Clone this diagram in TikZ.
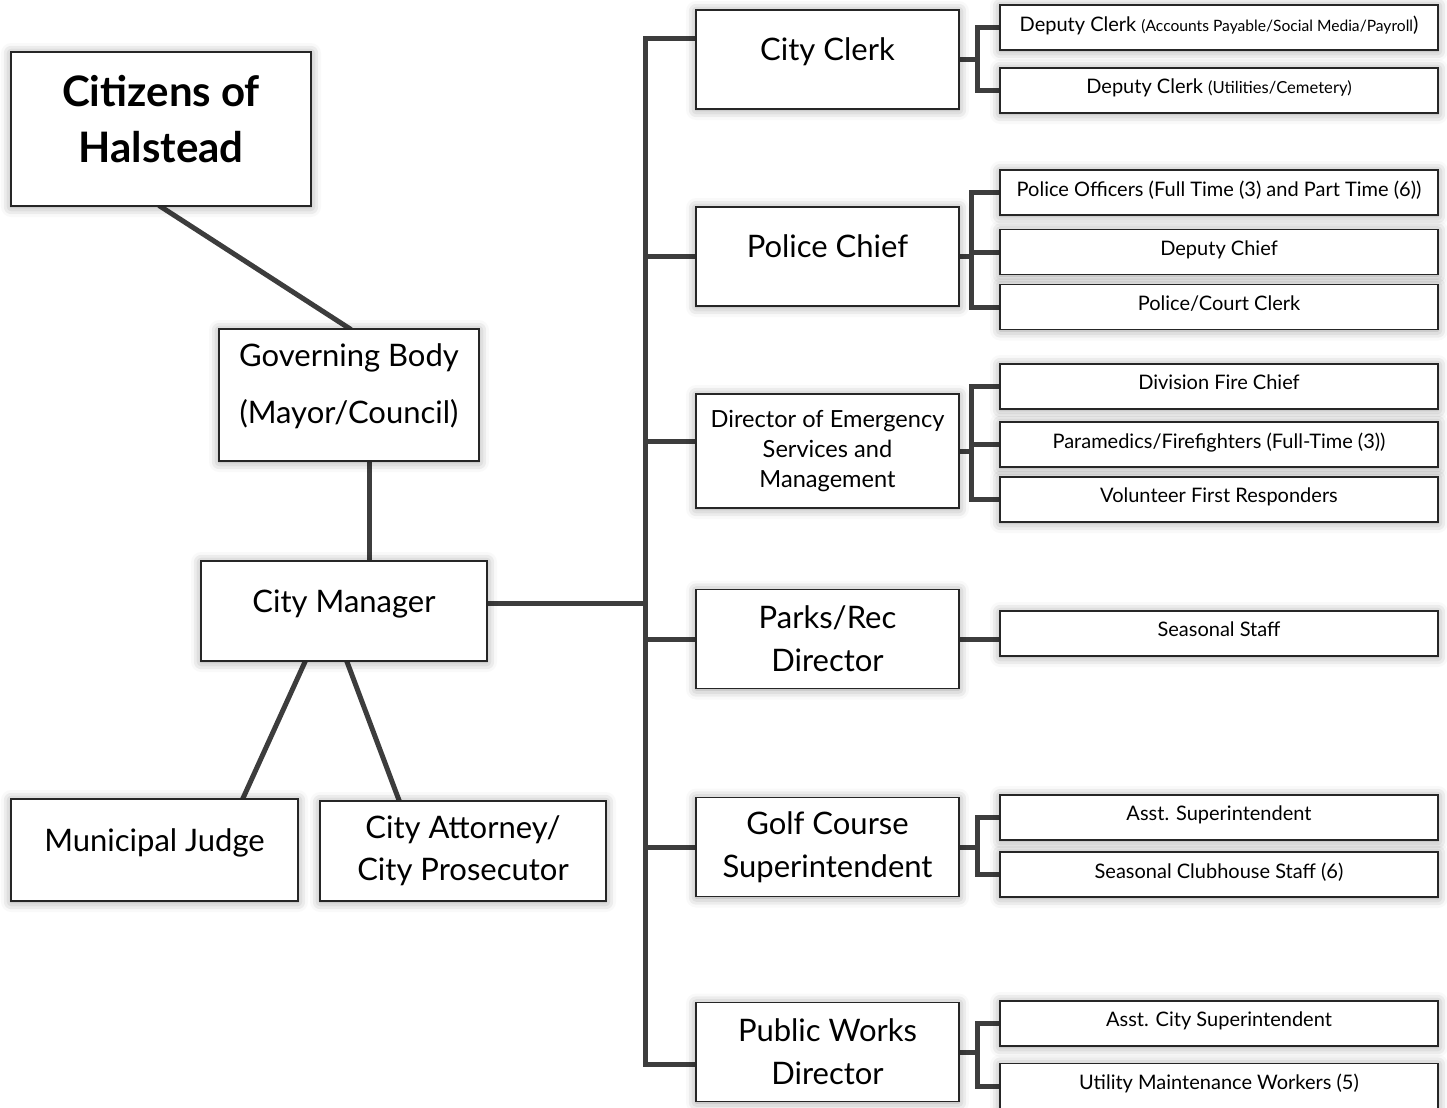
\documentclass[tikz,border=0pt]{standalone}
\usepackage{fontspec}
\setmainfont{Lato}
\usetikzlibrary{calc,shadows.blur}
\pgfdeclarelayer{background}
\pgfsetlayers{background,main}

\begin{document}
\begin{tikzpicture}[x=0.5pt, y=-0.5pt,
	box/.style={draw=black!85, line width=0.8pt, fill=white, align=center, inner sep=2pt,
		blur shadow={shadow xshift=0pt, shadow yshift=-0.5pt, shadow blur radius=5pt, shadow opacity=40}},
	head/.style={box, minimum width=131.5pt, minimum height=49.5pt, font=\fontsize{15.5}{21.5}\selectfont},
	staff/.style={box, minimum width=219pt, minimum height=22.5pt, font=\fontsize{10}{11}\selectfont, text depth=4pt},
	lift/.style={text depth=#1},
	link/.style={draw=black!76, line width=2.5pt, line cap=rect}]
	
	\useasboundingbox (0,0) rectangle (1447,1108);
	
	% Left side
	\node [box, lift=10pt, minimum width=150pt, minimum height=77pt, font=\fontsize{21}{28}\selectfont\bfseries] (citizens) at (161,129) {Citizens of\\Halstead};
	\node [box, lift=11pt, minimum width=130pt, minimum height=66pt, font=\fontsize{15.5}{28.5}\selectfont] (gov) at (349,395) {Governing Body\\(Mayor/Council)};
	\node [box, lift=9.5pt, minimum width=143pt, minimum height=50pt, font=\fontsize{15.5}{21}\selectfont] (mgr) at (344,611) {City Manager};
	\node [box, lift=9.5pt, minimum width=143.5pt, minimum height=51pt, font=\fontsize{15.5}{21}\selectfont] (judge) at (154.5,850) {Municipal Judge};
	\node [box, minimum width=143pt, minimum height=50pt, font=\fontsize{15.5}{21}\selectfont] (attorney) at (463,851) {City Attorney/\\City Prosecutor};
	
	% Department heads
	\node [head, lift=10pt] (clerk) at (827.5,59.5) {City Clerk};
	\node [head, lift=10pt] (police) at (827.5,256.5) {Police Chief};
	\node [head, minimum height=57pt, font=\fontsize{11.8}{15}\selectfont] (director) at (827.5,451) {Director of Emergency\\Services and\\Management};
	\node [head] (parks) at (827.5,639) {Parks/Rec\\Director};
	\node [head] (golf) at (827.5,847) {Golf Course\\Superintendent};
	\node [head] (public) at (827.5,1052) {Public Works\\Director};
	
	% Staff
	\node [staff] (dc1) at (1219,27.5) {Deputy Clerk {\fontsize{7.8}{9}\selectfont(Accounts Payable/Social Media/Payroll}{)}};
	\node [staff] (dc2) at (1219,90.5) {Deputy Clerk {\fontsize{8.3}{9}\selectfont(Utilities/Cemetery)}};
	\node [staff] (po) at (1219,192.5) {Police Officers (Full Time (3) and Part Time (6))};
	\node [staff] (dch) at (1219,252) {Deputy Chief};
	\node [staff] (pcc) at (1219,307) {Police/Court Clerk};
	\node [staff] (dfc) at (1219,386.5) {Division Fire Chief};
	\node [staff] (pf) at (1219,444.5) {Paramedics/Firefighters (Full-Time (3))};
	\node [staff] (vfr) at (1219,499.5) {Volunteer First Responders};
	\node [staff] (ss) at (1219,633.5) {Seasonal Staff};
	\node [staff] (asup) at (1219,817.5) {Asst. Superintendent};
	\node [staff] (sch) at (1219,874.5) {Seasonal Clubhouse Staff (6)};
	\node [staff] (acs) at (1219,1023.5) {Asst. City Superintendent};
	\node [staff] (umw) at (1219,1086) {Utility Maintenance Workers (5)};
	
	\coordinate (trunktop) at (645,38);
	\coordinate (trunkbot) at (645,1064);
	
	\begin{pgfonlayer}{background}
		% Left side connections
		\draw [link] (citizens.south) -- (gov.north);
		\draw [link] ($(gov.south)+(20,0)$) -- ($(mgr.north)+(25,0)$);
		\draw [link] ($(mgr.south)+(-39,0)$) -- ($(judge.north)+(88.5,0)$);
		\draw [link] ($(mgr.south)+(3,0)$) -- ($(attorney.north)+(-64,0)$);
		
		% Trunk to the department heads
		\draw [link] (trunktop) -- (trunkbot);
		\draw [link] ($(mgr.east)+(0,-8)$) -- ($(mgr.east -| trunktop)+(0,-8)$);
		\draw [link] (trunktop) -- (trunktop -| clerk.west);
		\foreach \d in {police,parks,golf}
		\draw [link] (\d.west) -- (\d.west -| trunktop);
		\draw [link] ($(director.west)+(0,-10)$) -- ($(director.west -| trunktop)+(0,-10)$);
		\draw [link] (trunkbot) -- (trunkbot -| public.west);
		
		% Department heads to their staff
		\foreach \h/\a/\b/\g in {clerk/dc1/dc2/22,police/po/pcc/28,director/dfc/vfr/28,golf/asup/sch/22,public/acs/umw/22} {
			\draw [link] (\h.east) -- ($(\h.east -| \a.west)+(-\g,0)$);
			\draw [link] ($(\a.west)+(-\g,0)$) -- ($(\b.west)+(-\g,0)$);
			\draw [link] (\a.west) -- ++(-\g,0);
			\draw [link] (\b.west) -- ++(-\g,0);
		}
		\draw [link] (dch.west) -- ++(-28,0);
		\draw [link] (pf.west) -- ++(-28,0);
		\draw [link] (parks.east) -- (parks.east -| ss.west);
	\end{pgfonlayer}
	
\end{tikzpicture}
\end{document}
